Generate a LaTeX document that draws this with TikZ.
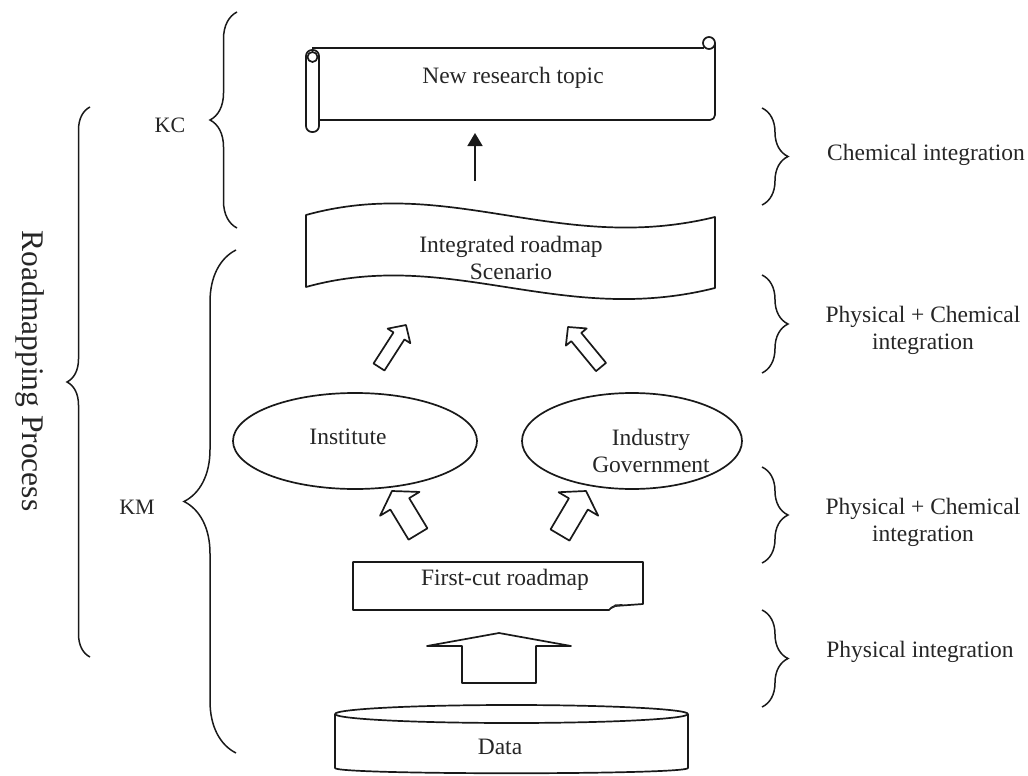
\documentclass[tikz,border=0pt]{standalone}
\usepackage{fontspec}
\setmainfont{Liberation Serif}
\usetikzlibrary{calc,decorations.pathreplacing,arrows.meta,shapes.geometric}
\newcommand\hollowarrow[5]{%
  \coordinate (hb) at ($(#2)!#5!(#1)$);
  \draw[ln, fill=white] ($(#1)!#3!90:(#2)$) -- ($(hb)!#3!90:(#2)$) -- ($(hb)!#4!90:(#2)$) -- (#2)
     -- ($(hb)!#4!-90:(#2)$) -- ($(hb)!#3!-90:(#2)$) -- ($(#1)!#3!-90:(#2)$) -- cycle;}
\begin{document}
\begin{tikzpicture}[x=1pt,y=-1pt,
  ln/.style={line width=1.7pt, draw=black!90, line join=round},
  lbl/.style={font=\fontsize{23.5}{27}\selectfont, text=black!85, align=center, inner sep=0pt},
  lbr/.style={line width=1.5pt, draw=black!90, decorate, decoration={brace, amplitude=#1}},
  ell/.style={ln, ellipse, minimum width=#1, minimum height=96pt, inner sep=0pt}]
\useasboundingbox (0,0) rectangle (1028,776);

% ---- scroll: New research topic
\draw[ln] (312,48) -- (704,48);
\draw[ln] (709,43) circle[radius=6];
\draw[ln, rounded corners=5pt] (715,43) -- (715,120) -- (319,120);
\draw[ln, fill=white, rounded corners=6pt] (306,50) rectangle (319,132);
\draw[ln] (312.5,57) circle[radius=5];
\node[lbl] (topic) at (513,78) {New research topic};

% ---- thin arrow
\coordinate (thintail) at (475,181);
\coordinate (thintip) at (475,133);
\draw[ln, -{Triangle[length=13pt,width=15pt]}] (thintail) -- (thintip);

% ---- integrated roadmap wave
\draw[ln] (306,215) .. controls (450,175) and (560,255) .. (715,217)
  -- (715,288) .. controls (560,327) and (450,247) .. (306,287) -- cycle;
\node[lbl] (integ) at (511,258) {Integrated roadmap\\Scenario};

% ---- ellipses
\node[ell=244pt] (instE) at (355,441) {};
\node[lbl] (inst) at (348,437) {Institute};
\node[ell=220pt] (indE) at (632,441) {};
\node[lbl] (ind) at (651,451) {Industry\\Government};

% ---- upper hollow arrows
\coordinate (ua1t) at (379,367);
\coordinate (ua1h) at (406,325);
\hollowarrow{ua1t}{ua1h}{6.5pt}{13.5pt}{13pt}
\coordinate (ua2t) at (601,367);
\coordinate (ua2h) at (568,327);
\hollowarrow{ua2t}{ua2h}{6.5pt}{13.5pt}{13pt}

% ---- lower hollow arrows
\coordinate (la1t) at (418,534);
\coordinate (la1h) at (392,491);
\hollowarrow{la1t}{la1h}{11pt}{23pt}{15pt}
\coordinate (la2t) at (560,535);
\coordinate (la2h) at (586,491);
\hollowarrow{la2t}{la2h}{11pt}{23pt}{15pt}

% ---- first-cut roadmap
\draw[ln] (353,562) -- (643,562) -- (643,604) -- (615,606) .. controls (612,607) .. (609,610) -- (353,610) -- cycle;
\fill[black!85] (609,610) .. controls (612,606.5) .. (615,604.5) -- (624,604) -- (615,607) -- cycle;
\node[lbl] (first) at (505,580) {First-cut roadmap};

% ---- big up arrow
\coordinate (bat) at (499,683);
\coordinate (bah) at (499,633);
\hollowarrow{bat}{bah}{37pt}{72pt}{13pt}

% ---- data cylinder
\draw[ln] (335,714) -- (335,768) .. controls (335,775) and (688,775) .. (688,768) -- (688,714);
\draw[ln] (511.5,714) ellipse[x radius=176.5, y radius=9];
\node[lbl] (data) at (500,747) {Data};

% ---- left braces
\draw[lbr=27pt] (237,228) -- (237,12);
\node[lbl, font=\fontsize{22}{26}\selectfont] (kc) at (170,125) {KC};
\draw[lbr=52pt] (236,753) -- (236,250);
\node[lbl, font=\fontsize{22}{26}\selectfont] (km) at (137,507) {KM};
\draw[lbr=23pt] (90,657) -- (90,107);
\node[lbl, font=\fontsize{31.5}{36}\selectfont, rotate=-90] (rp) at (30,371) {Roadmapping Process};

% ---- right braces
\draw[lbr=26pt] (762,108) -- (762,205);
\node[lbl] (r1) at (926,155) {Chemical integration};
\draw[lbr=26pt] (762,275) -- (762,373);
\node[lbl] (r2) at (923,330) {Physical + Chemical\\integration};
\draw[lbr=26pt] (762,467) -- (762,563);
\node[lbl] (r3) at (923,522) {Physical + Chemical\\integration};
\draw[lbr=26pt] (762,610) -- (762,707);
\node[lbl] (r4) at (920,652) {Physical integration};
\end{tikzpicture}
\end{document}
